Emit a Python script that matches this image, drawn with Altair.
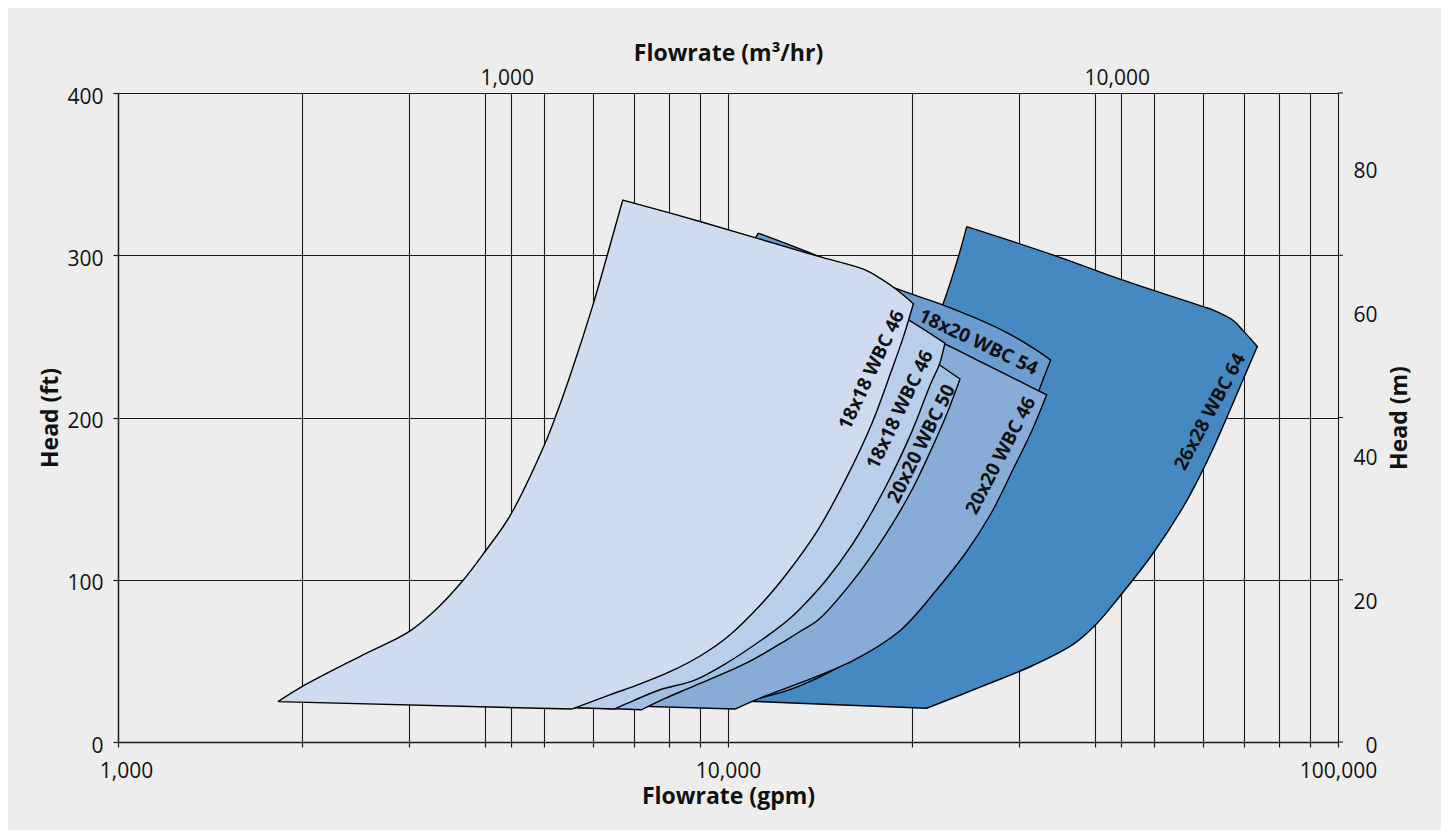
import altair as alt
import pandas as pd

FONT = "Open Sans"
GPM_PER_M3H = 4.40287

# ---------------- data (gpm, ft) ----------------
# 26x28 WBC 64 (dark, back-most)
S6_Q = [24620, 34150, 43910, 60140, 62450, 67350, 69950, 73750,
        69950, 66530, 62450, 59390, 55770, 49560, 43420, 40210, 36830, 31660, 26210, 21170,
        11070, 7451,
        8343, 9703, 12170, 14700, 17750, 20640, 22540, 24000, 24620]
S6_H = [317.6, 300.1, 285.3, 268.3, 266.2, 259.8, 253.4, 243.8,
        223.7, 204.6, 181.1, 164.1, 145.0, 115.4, 87.7, 72.9, 60.3, 47.3, 34.6, 20.8,
        25.0, 27.6,
        38.4, 63.0, 93.8, 130.8, 180.1, 235.6, 270.4, 302.3, 317.6]
S6_CORNERS = [7, 19, 21]

# 18x20 WBC 54
S5_Q = [11210, 13890, 18790, 22540, 27920, 31660, 33810,
        32470, 30500, 27000, 22000, 17000, 13000, 10000,
        3127, 3776, 4918, 6168, 7451, 8664, 9703, 10660, 11210]
S5_H = [313.6, 300.2, 279.7, 269.3, 254.5, 242.8, 235.4,
        218.4, 190, 148, 98, 58, 34, 23,
        24.8, 32.2, 63.0, 100, 143.1, 198.6, 254.0, 297.2, 313.6]
S5_CORNERS = [6, 13, 14]

# 20x20 WBC 46
S4_Q = [9703, 13120, 19140, 22830, 26210, 30110, 33300,
        31500, 29360, 27000, 24620, 22000, 19140, 16000, 13120, 11280, 10268,
        3068, 3637, 4391, 5303, 6168, 7040, 7883, 8599, 9169, 9703]
S4_H = [284.9, 275.6, 257.2, 244.8, 233.5, 222.2, 214,
        192, 168.4, 141, 117.4, 94, 68.6, 50, 36.4, 27.1, 20.3,
        26.1, 32.2, 52.6, 80.3, 111.1, 146.2, 186.3, 223.2, 254.0, 284.9]
S4_CORNERS = [6, 16, 17]

# 20x20 WBC 50
S3_Q = [8664, 13120, 17750, 20640, 22200, 24006,
        23000, 22000, 20000, 18000, 16000, 14060, 13120, 12481, 10730, 8773, 7900, 7220,
        2608, 3127, 3776, 4560, 5303, 6053, 6780, 7451, 8034, 8664]
S3_H = [291.0, 272.5, 254.0, 240.3, 232.5, 223.7,
        205, 188, 155, 126, 99, 75.3, 68.1, 63.0, 48.7, 34.3, 27, 19.9,
        25.8, 32.2, 52.6, 80.3, 111.1, 146.2, 186.3, 229.4, 260.2, 291.0]
S3_CORNERS = [5, 17, 18]

# 18x18 WBC 46 (second)
S2_Q = [7451, 13120, 17750, 19750, 22680,
        22200, 21500, 20000, 18000, 16000, 14500, 13120, 12560, 11570, 9951, 8800, 7737, 7000, 6511,
        2226, 2689, 3247, 3921, 4560, 5204, 5830, 6407, 6908, 7451]
S2_H = [306.4, 286.0, 269.3, 260.2, 245.8,
        232.5, 221, 191, 155, 122, 100, 82, 75.3, 65.1, 48.7, 38, 32.2, 25.5, 20.3,
        26.1, 32.2, 53.8, 81.5, 112.3, 149.3, 192.4, 235.6, 272.5, 306.4]
S2_CORNERS = [4, 18, 19]

# 18x18 WBC 46 (front, lightest)
S1_Q = [1829, 2000, 2500, 3000, 3331, 3682, 3997, 4391, 4994, 5185, 5508, 6000, 6383, 6721,
        8998, 13980, 16670, 17750, 18910, 20130,
        19400, 18500, 17200, 15500, 14000, 12500, 11400, 10000, 9000, 8000, 7200, 6400, 5543, 1829]
S1_H = [24.9, 34, 53, 68, 82.1, 99.8, 117.4, 139.4, 182.6, 198, 225.6, 268.8, 304, 334.0,
        320.8, 299.6, 291.4, 285.9, 278.7, 270.1,
        250, 228, 196, 160, 130, 104, 86, 65, 53, 43, 36, 29, 20.3, 24.9]
S1_CORNERS = [13, 19, 32]

SHAPES = [  # back to front
    (S6_Q, S6_H, S6_CORNERS, "#4589C3"),
    (S5_Q, S5_H, S5_CORNERS, "#6A9CD0"),
    (S4_Q, S4_H, S4_CORNERS, "#86ACD7"),
    (S3_Q, S3_H, S3_CORNERS, "#A1C0E3"),
    (S2_Q, S2_H, S2_CORNERS, "#B9CEEA"),
    (S1_Q, S1_H, S1_CORNERS, "#CFDCEF"),
]

LABEL_TEXT = ["18x18 WBC 46", "18x18 WBC 46", "20x20 WBC 50", "20x20 WBC 46", "18x20 WBC 54", "26x28 WBC 64"]
LABEL_Q = [17200, 19140, 20770, 28000, 25720, 61680]
LABEL_H = [229.3, 204.8, 183.8, 176.5, 246.3, 203.5]
LABEL_ANGLE = [295.3, 295.9, 296.3, 297.5, 25.3, 298.3]

GPM_GRID = [1000, 2000, 3000, 4000, 5000, 6000, 7000, 8000, 9000,
            10000, 20000, 30000, 40000, 50000, 60000, 70000, 80000, 90000, 100000]
M3H_TICKS = [1000, 10000]
FT_TICKS = [0, 100, 200, 300, 400]
M_TICKS = [0, 20, 40, 60, 80]

grid_values = GPM_GRID + [v * GPM_PER_M3H for v in M3H_TICKS]

LINE = "#1a1a1a"

xs = alt.Scale(type="log", domain=[1000, 100000], nice=False)
ys = alt.Scale(domain=[0, 400], nice=False, zero=False)

x_axis = alt.Axis(
    orient="bottom", values=grid_values,
    labelExpr="datum.value == 1000 || datum.value == 10000 || datum.value == 100000 ? format(datum.value, ',') : ''",
    labelFont=FONT, labelFontSize=21, labelColor="#111111", labelPadding=13,
    labelFlush=False, labelOverlap=False,
    labelOffset={"condition": {"test": "datum.value == 1000", "value": 8}, "value": 0},
    tickSize=5, tickColor=LINE, tickWidth=1.2,
    domainColor=LINE, domainWidth=1.4,
    grid=True, gridColor=LINE, gridWidth=1.1, gridOpacity=1,
    title="Flowrate (gpm)", titleFont=FONT, titleFontSize=23, titleFontWeight="bold",
    titleColor="#111111", titleX=610, titleY=61, titleBaseline="alphabetic", titleAlign="center",
)
y_axis = alt.Axis(
    orient="left", values=FT_TICKS,
    labelFont=FONT, labelFontSize=21, labelColor="#111111", labelPadding=10, labelOffset=4,
    labelOverlap=False, labelFlush=False,
    tickSize=5, tickColor=LINE, tickWidth=1.2,
    domainColor=LINE, domainWidth=1.4,
    grid=True, gridColor=LINE, gridWidth=1.1, gridOpacity=1,
    title="Head (ft)", titleFont=FONT, titleFontSize=23, titleFontWeight="bold",
    titleColor="#111111", titleAngle=270, titleX=-61, titleY=324.5,
    titleBaseline="alphabetic", titleAlign="center",
)
top_axis = alt.Axis(
    orient="top", values=M3H_TICKS, labelExpr="format(datum.value, ',')",
    ticks=False, tickSize=0, domain=False, grid=False,
    labelFont=FONT, labelFontSize=21, labelColor="#111111", labelPadding=5, labelOffset=-4,
    labelFlush=False, labelOverlap=False,
    title="Flowrate (m³/hr)", titleFont=FONT, titleFontSize=23, titleFontWeight="bold",
    titleColor="#111111", titleX=610, titleY=-33, titleBaseline="alphabetic", titleAlign="center",
)
right_axis = alt.Axis(
    orient="right", values=M_TICKS,
    ticks=False, tickSize=0, domain=False, grid=False,
    labelFont=FONT, labelFontSize=21, labelColor="#111111", labelAlign="right",
    labelPadding=39, labelOffset=4, labelOverlap=False, labelFlush=False,
    title="Head (m)", titleFont=FONT, titleFontSize=23, titleFontWeight="bold",
    titleColor="#111111", titleAngle=270, titleX=68, titleY=324.5,
    titleBaseline="alphabetic", titleAlign="center",
)

X = alt.X("Q:Q", scale=xs, axis=x_axis)
Y = alt.Y("H:Q", scale=ys, axis=y_axis)


def outline(q, h, corners):
    """Polygon rows in drawing order; corner vertices are listed twice so the
    smooth curve keeps them sharp."""
    rows = []
    for k, (qq, hh) in enumerate(zip(q, h)):
        rows.append((qq, hh))
        if k in corners:
            rows.append((qq, hh))
    return pd.DataFrame({"Q": [r[0] for r in rows], "H": [r[1] for r in rows],
                         "i": list(range(len(rows)))})


layers = []
for q, h, corners, color in SHAPES:
    df = outline(q, h, corners)
    layers.append(
        alt.Chart(df).mark_line(fill=color, stroke="#000000", strokeWidth=1.4,
                                interpolate="catmull-rom",
                                strokeJoin="miter", strokeMiterLimit=4)
        .encode(x=X, y=Y, order=alt.Order("i:Q"))
    )

for t, q, h, a in zip(LABEL_TEXT, LABEL_Q, LABEL_H, LABEL_ANGLE):
    df = pd.DataFrame({"Q": [q], "H": [h], "t": [t]})
    layers.append(
        alt.Chart(df).mark_text(angle=a, font=FONT, fontSize=19, fontWeight="bold",
                                color="#111111", align="center", baseline="middle")
        .encode(x=X, y=Y, text="t:N")
    )

stubs = alt.Chart(pd.DataFrame({"H": FT_TICKS})).mark_rule(color=LINE, strokeWidth=1.1).encode(
    x=alt.value(1220), x2=alt.value(1225), y=Y
)
layers.append(stubs)

inner = alt.layer(*layers)

helper = alt.Chart(pd.DataFrame({"m3": M3H_TICKS, "m": [0, 80]})).mark_point(opacity=0).encode(
    x=alt.X("m3:Q", scale=alt.Scale(type="log", domain=[1000 / GPM_PER_M3H, 100000 / GPM_PER_M3H], nice=False),
            axis=top_axis),
    y=alt.Y("m:Q", scale=alt.Scale(domain=[0, 90.4], nice=False, zero=False), axis=right_axis),
)

chart = (
    alt.layer(inner, helper)
    .resolve_scale(x="independent", y="independent")
    .properties(
        width=1220, height=649,
        padding={"left": 110, "top": 85, "right": 103, "bottom": 88},
        autosize=alt.AutoSizeParams(type="none"),
        background="#EDEDED",
    )
    .configure_view(strokeWidth=0)
)

chart.save("out.html", embed_options={"renderer": "svg", "actions": False})
